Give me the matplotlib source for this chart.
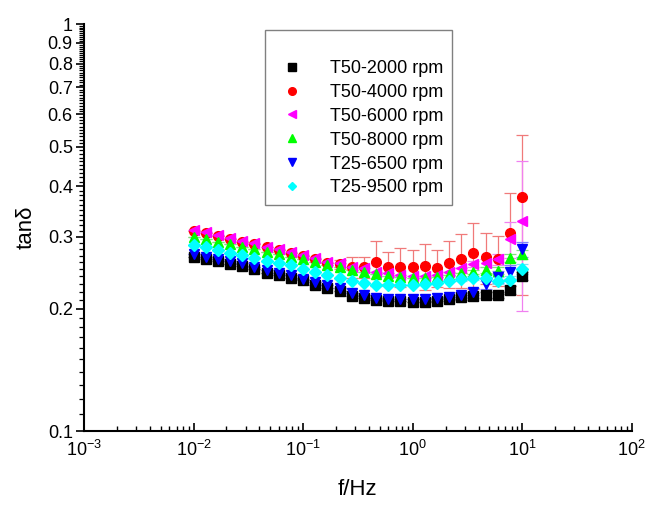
import matplotlib
matplotlib.use("Agg")
import matplotlib.pyplot as plt
from matplotlib.lines import Line2D
from matplotlib.ticker import FixedLocator, FixedFormatter, LogLocator, NullFormatter
import numpy as np

plt.rcParams["font.family"] = ["Liberation Sans", "DejaVu Sans"]
plt.rcParams["mathtext.fontset"] = "custom"
plt.rcParams["mathtext.rm"] = "Liberation Sans"
plt.rcParams["mathtext.it"] = "Liberation Sans:italic"

# frequency sweep, 9 points per decade from 0.01 to 10 Hz
freq = [0.01, 0.01292, 0.01668, 0.02154, 0.02783, 0.03594, 0.04642, 0.05995, 0.07743,
        0.1, 0.1292, 0.1668, 0.2154, 0.2783, 0.3594, 0.4642, 0.5995, 0.7743,
        1.0, 1.292, 1.668, 2.154, 2.783, 3.594, 4.642, 5.995, 7.743, 10.0]

t50_2000 = [0.2682, 0.2642, 0.2612, 0.2578, 0.2544, 0.2497, 0.2450, 0.2414, 0.2382,
            0.2351, 0.2290, 0.2251, 0.2209, 0.2147, 0.2127, 0.2099, 0.2091, 0.2087,
            0.2076, 0.2076, 0.2091, 0.2115, 0.2131, 0.2151, 0.2160, 0.2160, 0.2226, 0.2405]
t50_4000 = [0.3101, 0.3060, 0.3013, 0.2968, 0.2918, 0.2875, 0.2827, 0.2785, 0.2743,
            0.2692, 0.2642, 0.2593, 0.2568, 0.2534, 0.2534, 0.2607, 0.2525, 0.2534,
            0.2534, 0.2548, 0.2520, 0.2583, 0.2642, 0.2743, 0.2682, 0.2642, 0.3060, 0.3750]
t50_6000 = [0.3118, 0.3077, 0.3031, 0.2985, 0.2935, 0.2891, 0.2837, 0.2801, 0.2759,
            0.2707, 0.2657, 0.2607, 0.2583, 0.2534, 0.2511, 0.2464, 0.2441, 0.2423,
            0.2405, 0.2405, 0.2418, 0.2464, 0.2511, 0.2573, 0.2593, 0.2642, 0.2957, 0.3288]
t50_8000 = [0.3002, 0.2957, 0.2918, 0.2875, 0.2837, 0.2795, 0.2759, 0.2723, 0.2682,
            0.2642, 0.2602, 0.2558, 0.2525, 0.2488, 0.2460, 0.2432, 0.2409, 0.2387,
            0.2373, 0.2373, 0.2387, 0.2414, 0.2441, 0.2464, 0.2488, 0.2478, 0.2657, 0.2723]
t25_6500 = [0.2723, 0.2682, 0.2652, 0.2617, 0.2583, 0.2534, 0.2488, 0.2450, 0.2414,
            0.2369, 0.2325, 0.2285, 0.2243, 0.2188, 0.2156, 0.2123, 0.2115, 0.2107,
            0.2107, 0.2111, 0.2127, 0.2139, 0.2164, 0.2201, 0.2298, 0.2396, 0.2464, 0.2795]
t25_9500 = [0.2864, 0.2827, 0.2785, 0.2743, 0.2707, 0.2667, 0.2622, 0.2583, 0.2558,
            0.2506, 0.2455, 0.2418, 0.2378, 0.2342, 0.2311, 0.2285, 0.2281, 0.2281,
            0.2285, 0.2298, 0.2316, 0.2342, 0.2369, 0.2378, 0.2373, 0.2342, 0.2351, 0.2501]

# standard deviations (mostly tiny, hidden under the markers)
err_2000 = [0.0] * 22 + [0.003, 0.003, 0.004, 0.004, 0.005, 0.006]
err_4000 = [0.0] * 12 + [0.006, 0.015, 0.015, 0.033, 0.023, 0.028, 0.025, 0.033,
                         0.026, 0.034, 0.040, 0.051, 0.038, 0.037, 0.079, 0.159]
err_6000 = [0.0] * 23 + [0.004, 0.006, 0.008, 0.030, 0.131]
err_8000 = [0.0] * 23 + [0.003, 0.004, 0.005, 0.006, 0.007]
err_6500 = [0.0] * 22 + [0.003, 0.004, 0.006, 0.008, 0.010, 0.012]
err_9500 = [0.0] * 22 + [0.003, 0.003, 0.004, 0.005, 0.006, 0.007]

labels = ["T50-2000 rpm", "T50-4000 rpm", "T50-6000 rpm",
          "T50-8000 rpm", "T25-6500 rpm", "T25-9500 rpm"]

series = [
    (t50_2000, err_2000, "s", "#000000", "#808080"),
    (t50_4000, err_4000, "o", "#ff0000", "#f07a7a"),
    (t50_6000, err_6000, "<", "#ff00ff", "#f080f0"),
    (t50_8000, err_8000, "^", "#00ff00", "#80e080"),
    (t25_6500, err_6500, "v", "#0000ff", "#8080ff"),
    (t25_9500, err_9500, "D", "#00ffff", "#80e0f0"),
]

fig = plt.figure(figsize=(6.56, 5.12), dpi=100)
ax = fig.add_axes([0.128, 0.158, 0.835, 0.795])

handles = []
for (vals, err, marker, color, ecolor), label in zip(series, labels):
    ms = 6 if marker == "D" else 7
    ax.errorbar(freq, vals, yerr=err, fmt=marker, ms=ms, color=color,
                mec=color, ecolor=ecolor, elinewidth=0.9, capsize=4,
                capthick=0.9)
    handles.append(Line2D([], [], ls="none", marker=marker, ms=ms - 1.5,
                          color=color, mec=color, label=label))

ax.set_xscale("log")
ax.set_yscale("log")
ax.set_xlim(1e-3, 1e2)
ax.set_ylim(0.1, 1.0)

ax.spines["top"].set_visible(False)
ax.spines["right"].set_visible(False)
for s in ("left", "bottom"):
    ax.spines[s].set_linewidth(1.5)

ax.xaxis.set_major_locator(LogLocator(base=10, numticks=10))
ax.xaxis.set_minor_locator(LogLocator(base=10, subs=np.arange(2, 10), numticks=20))
ax.xaxis.set_minor_formatter(NullFormatter())
ax.tick_params(axis="x", which="major", direction="in", length=6, width=1.2,
               labelsize=13, pad=6)
ax.tick_params(axis="x", which="minor", direction="in", length=3.5, width=1.0)

ymaj = [0.1, 0.2, 0.3, 0.4, 0.5, 0.6, 0.7, 0.8, 0.9, 1.0]
ylab = ["0.1", "0.2", "0.3", "0.4", "0.5", "0.6", "0.7", "0.8", "0.9", "1"]
ymin = [round(0.1 + 0.01 * i, 2) for i in range(1, 90) if i % 10 != 0]
ax.yaxis.set_major_locator(FixedLocator(ymaj))
ax.yaxis.set_major_formatter(FixedFormatter(ylab))
ax.yaxis.set_minor_locator(FixedLocator(ymin))
ax.yaxis.set_minor_formatter(NullFormatter())
ax.tick_params(axis="y", which="major", direction="out", length=6, width=1.2,
               labelsize=13, pad=2)
ax.tick_params(axis="y", which="minor", direction="out", length=3.5, width=0.9)

ax.set_xlabel("f/Hz", fontsize=16, labelpad=14)
ax.set_ylabel("tanδ", fontsize=16, labelpad=8)

leg = ax.legend(handles=handles, loc="upper left", bbox_to_anchor=(0.33, 0.985),
                fontsize=13, title=" ", title_fontsize=11,
                frameon=True, fancybox=False, edgecolor="#606060",
                handlelength=2.0, handletextpad=1.1, labelspacing=0.38,
                borderpad=0.5, borderaxespad=0)
leg.get_frame().set_linewidth(1.0)

fig.savefig("out.png", dpi=100)
